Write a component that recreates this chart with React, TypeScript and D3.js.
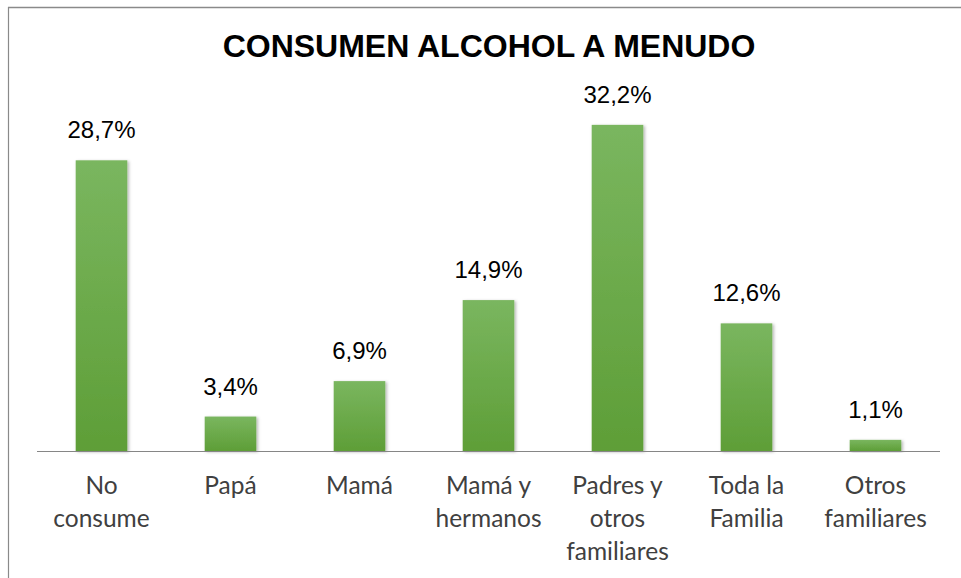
import React from "react";
import * as d3 from "d3";

const title = "CONSUMEN ALCOHOL A MENUDO";
const categories = [
  "No consume",
  "Papá",
  "Mamá",
  "Mamá y hermanos",
  "Padres y otros familiares",
  "Toda la Familia",
  "Otros familiares",
];
const categoryLines = [
  ["No", "consume"],
  ["Papá"],
  ["Mamá"],
  ["Mamá y", "hermanos"],
  ["Padres y", "otros", "familiares"],
  ["Toda la", "Familia"],
  ["Otros", "familiares"],
];
const values = [28.7, 3.4, 6.9, 14.9, 32.2, 12.6, 1.1];
const valueLabels = ["28,7%", "3,4%", "6,9%", "14,9%", "32,2%", "12,6%", "1,1%"];

const W = 961;
const H = 578;
const plotLeft = 37;
const plotRight = 940;
const baseY = 451;

export default function App() {
  const x = d3
    .scaleBand<string>()
    .domain(categories)
    .range([plotLeft, plotRight])
    .paddingInner(0.6)
    .paddingOuter(0.3);
  const y = d3.scaleLinear().domain([0, 35]).range([baseY, 96.5]);
  const bw = x.bandwidth();

  return (
    <svg
      width={W}
      height={H}
      viewBox={`0 0 ${W} ${H}`}
      style={{ position: "absolute", left: 0, top: 0, background: "#fff" }}
    >
      <defs>
        <linearGradient id="barGrad" x1="0" y1="0" x2="0" y2="1">
          <stop offset="0%" stopColor="#7ab65f" />
          <stop offset="100%" stopColor="#5e9e37" />
        </linearGradient>
        <filter id="shadow" x="-30%" y="-10%" width="160%" height="120%">
          <feDropShadow dx="1.5" dy="1" stdDeviation="1.6" floodColor="#000" floodOpacity="0.3" />
        </filter>
      </defs>
      <rect x={0} y={0} width={W} height={H} fill="#fff" />
      <line x1={8} y1={7.5} x2={W} y2={7.5} stroke="#8a8a8a" strokeWidth={1.5} />
      <line x1={8.5} y1={7} x2={8.5} y2={H} stroke="#8a8a8a" strokeWidth={1.2} />

      <text
        x={489}
        y={57}
        textAnchor="middle"
        fontFamily="Liberation Sans, Arial, sans-serif"
        fontWeight="bold"
        fontSize={32}
        fill="#000"
      >
        {title}
      </text>

      {categories.map((c, i) => {
        const bx = x(c)!;
        const top = y(values[i]);
        return (
          <g key={c}>
            <rect
              x={bx}
              y={top}
              width={bw}
              height={baseY - top}
              fill="url(#barGrad)"
              filter="url(#shadow)"
            />
            <text
              x={bx + bw / 2}
              y={top - 22}
              textAnchor="middle"
              fontFamily="Liberation Sans, Arial, sans-serif"
              fontSize={24}
              fill="#000"
            >
              {valueLabels[i]}
            </text>
            {categoryLines[i].map((ln, j) => (
              <text
                key={j}
                x={bx + bw / 2}
                y={494 + j * 33}
                textAnchor="middle"
                fontFamily="Lato, sans-serif"
                fontSize={24.5}
                fill="#404040"
              >
                {ln}
              </text>
            ))}
          </g>
        );
      })}

      <line x1={plotLeft} y1={baseY + 0.5} x2={plotRight} y2={baseY + 0.5} stroke="#868686" strokeWidth={1.2} />
    </svg>
  );
}
